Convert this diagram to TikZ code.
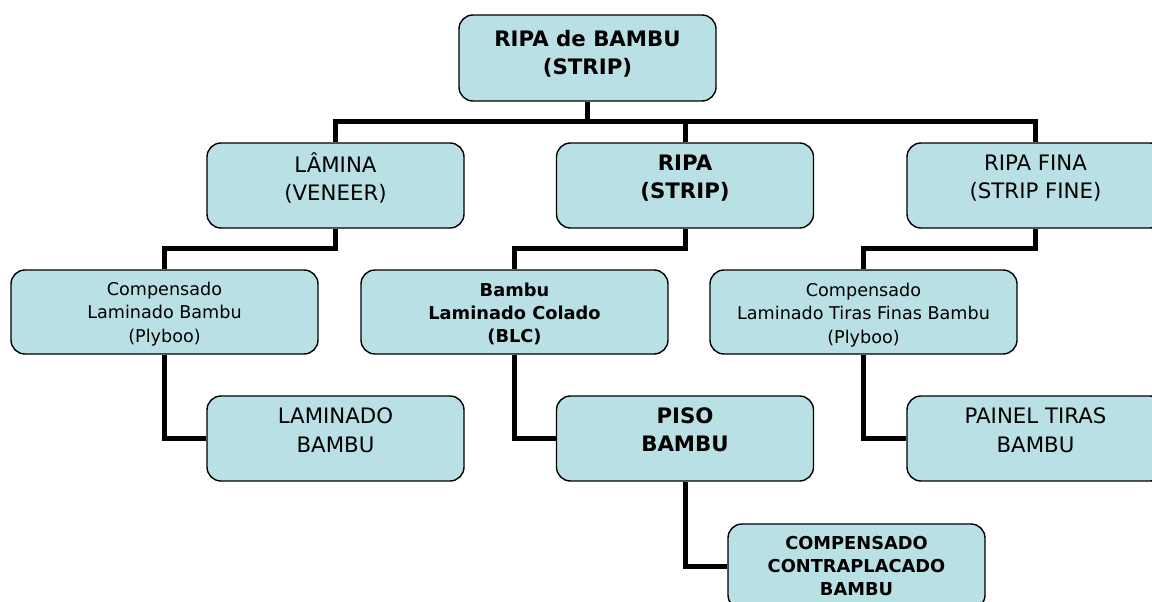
\documentclass[tikz,border=0pt]{standalone}
\usepackage{fontspec}
\setmainfont{DejaVu Sans}
\usetikzlibrary{backgrounds}
\definecolor{boxfill}{RGB}{185,224,228}
\begin{document}
\begin{tikzpicture}[x=1pt,y=-1pt,
  box/.style={draw=black, line width=1.4pt, fill=boxfill, rounded corners=14pt,
    minimum width=257pt, minimum height=85pt, inner sep=0pt},
  widebox/.style={box, minimum width=307pt, minimum height=84pt},
  bigtxt/.style={align=center, inner sep=0pt, font=\fontsize{21.3}{28.5}\selectfont},
  bigbold/.style={align=center, inner sep=0pt, font=\fontsize{21.3}{28}\selectfont\bfseries},
  smalltxt/.style={align=center, inner sep=0pt, font=\fontsize{17.6}{23.3}\selectfont},
  smallbold/.style={align=center, inner sep=0pt, font=\fontsize{17.8}{23.3}\selectfont\bfseries},
  conn/.style={draw=black, line width=5pt}]
\useasboundingbox (0,0) rectangle (1152,602);
\clip (0,0) rectangle (1152,602);

% boxes
\node[box, minimum height=86pt] (top) at (587.5,58) {};
\node[box] (lam)  at (335.5,185.5) {};
\node[box] (ripa) at (685,185.5) {};
\node[box] (fina) at (1035.5,185.5) {};
\node[widebox] (comp1) at (164.5,312) {};
\node[widebox] (blc)   at (514.5,312) {};
\node[widebox] (comp2) at (863.5,312) {};
\node[box] (lamb)   at (335.5,438.5) {};
\node[box] (piso)   at (685,438.5) {};
\node[box] (painel) at (1035.5,438.5) {};
\node[box] (cc)     at (856.5,566.5) {};

% texts
\node[bigbold] (top-t) at (587.5,54) {RIPA de BAMBU\\(STRIP)};
\node[bigtxt] (lam-t) at (335.5,178) {LÂMINA\\(VENEER)};
\node[bigbold] (ripa-t) at (685,178) {RIPA\\(STRIP)};
\node[bigtxt] (fina-t) at (1035.5,178) {RIPA FINA\\(STRIP FINE)};
\node[smalltxt] (comp1-t) at (164.5,314) {Compensado\\Laminado Bambu\\(Plyboo)};
\node[smallbold] (blc-t) at (514.5,314) {Bambu\\Laminado Colado\\(BLC)};
\node[smalltxt] (comp2-t) at (863.5,315) {Compensado\\Laminado Tiras Finas Bambu\\(Plyboo)};
\node[bigtxt] (lamb-t) at (335.5,430) {LAMINADO\\BAMBU};
\node[bigbold] (piso-t) at (685,430) {PISO\\BAMBU};
\node[bigtxt] (painel-t) at (1035.5,430) {PAINEL TIRAS\\BAMBU};
\node[smallbold] (cc-t) at (856.5,566) {COMPENSADO\\CONTRAPLACADO\\BAMBU};

% connectors
\coordinate (bus) at (0,121);
\coordinate (lv2) at (0,248);
\begin{scope}[on background layer]
\draw[conn] (top.south) -- (top.south |- bus);
\draw[conn] (lam.north) -- (lam.north |- bus) -- (fina.north |- bus) -- (fina.north);
\draw[conn] (ripa.north) -- (ripa.north |- bus);
\draw[conn] (lam.south) -- (lam.south |- lv2) -| (comp1.north);
\draw[conn] (ripa.south) -- (ripa.south |- lv2) -| (blc.north);
\draw[conn] (fina.south) -- (fina.south |- lv2) -| (comp2.north);
\draw[conn] (comp1.south) |- (lamb.west);
\draw[conn] (blc.south) |- (piso.west);
\draw[conn] (comp2.south) |- (painel.west);
\draw[conn] (piso.south) |- (cc.west);
\end{scope}
\end{tikzpicture}
\end{document}
